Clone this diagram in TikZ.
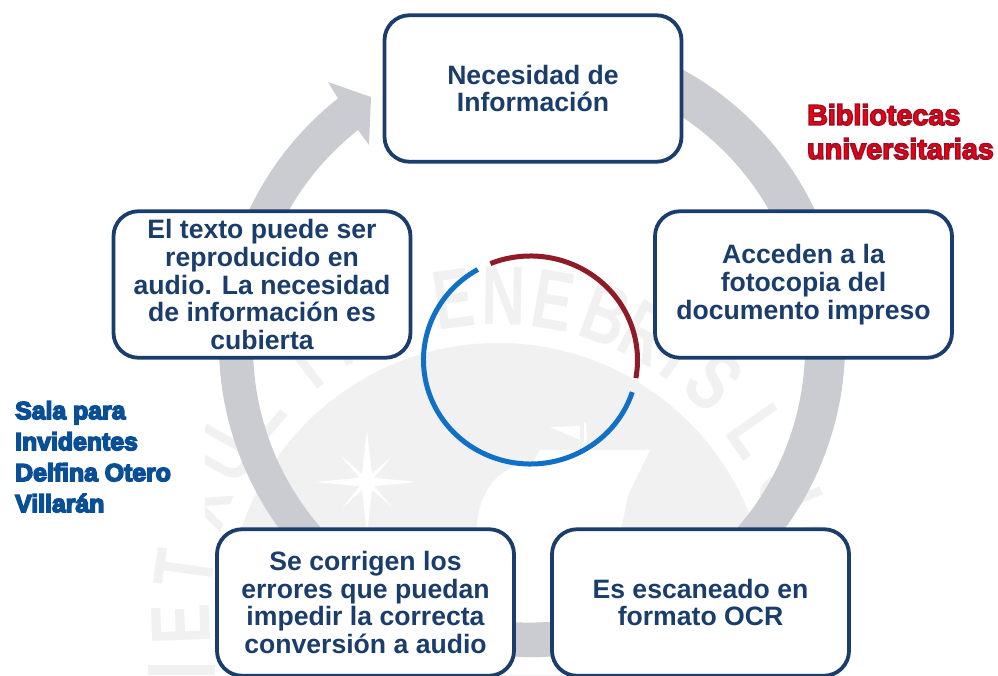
\documentclass[tikz,border=0pt]{standalone}
\usepackage{fontspec}
\setmainfont{Liberation Sans}
\definecolor{ringgrey}{HTML}{CBCCD1}
\definecolor{sealgrey}{HTML}{F1F1F2}
\definecolor{boxblue}{HTML}{1A3D6B}
\definecolor{arcred}{HTML}{8F1A28}
\definecolor{arcblue}{HTML}{1070C8}
\definecolor{redfill}{HTML}{F00010}
\definecolor{salablue}{HTML}{0A5096}
\newcommand{\outlinedtext}[2]{\special{pdf:code 2 Tr #1 RG 1.5 w}#2\special{pdf:code 0 Tr}}
\tikzset{
  cyclebox/.style={draw=boxblue,line width=3.8pt,fill=white,rounded corners=25pt,
    minimum width=297pt,minimum height=146.5pt,inner sep=0pt,align=center,text=boxblue,
    font=\fontsize{26.6}{27.8}\selectfont\bfseries},
  sealletter/.style={text=sealgrey,anchor=base,inner sep=0pt,outer sep=0pt,
    font=\fontsize{84}{84}\selectfont\bfseries},
  sidelabel/.style={inner sep=0pt,anchor=north west,align=left}
}
\begin{document}
\begin{tikzpicture}[x=1pt,y=1pt]
\clip (0,0) rectangle (998,675);
\coordinate (seal) at (498,62);
\coordinate (ringc) at (532,331);
\coordinate (innerc) at (530.5,315);
% watermark seal
\fill[sealgrey] (seal) circle (270pt);
\foreach \ch/\ang [count=\i] in {E/182,T/172,L/140,U/150,X/160,I/128,N/118,T/108,E/98,N/89,E/80,B/70,R/62,I/55,S/47,L/35,U/23,C/12,E/1,T/-9}{
  \node[sealletter,rotate=\ang-90,xscale=.72] (w\i) at ([shift={(\ang:288pt)}]seal) {\ch};
}
\fill[sealgrey] (148,0) rectangle (215,10);
% white emblem shapes in the seal
\fill[white] (477,0) -- (477,150) .. controls (480,190) and (505,212) .. (533,212) -- (540,225) -- (650,225) -- (628,180) -- (620,140) -- (620,0) -- cycle;
\fill[white] (367,245) -- (373,193) -- (367,141) -- (361,193) -- cycle;
\fill[white] (315,193) -- (367,198) -- (417,193) -- (367,188) -- cycle;
\fill[white] (340,220) -- (369,195) -- (393,167) -- (365,191) -- cycle;
\fill[white] (393,220) -- (369,191) -- (342,167) -- (365,195) -- cycle;
\fill[white] (550,248) -- (580,249) -- (580,235) -- cycle;
\fill[white] (584,253) -- (586,253) -- (587,232) -- (584,232) -- cycle;
\fill[white] (0,130) rectangle (205,285);
% big cycle arrow
\fill[ringgrey] ([shift={(70:313pt)}]ringc) arc[start angle=70,end angle=-231.7,radius=313pt]
  -- (328,593) -- (371,578) -- (369,530) -- (358,545)
  arc[start angle=-231.7,end angle=70,radius=276pt] -- cycle;
% inner circle
\draw[arcred,line width=5pt] ([shift={(112:107pt and 104pt)}]innerc) arc[start angle=112,end angle=-10,x radius=107pt,y radius=104pt];
\draw[arcblue,line width=5pt] ([shift={(-18:107pt and 104pt)}]innerc) arc[start angle=-18,end angle=-240.5,x radius=107pt,y radius=104pt];
% boxes
\node[cyclebox] (b1) at (533,586.5) {Necesidad de\\Información};
\node[cyclebox] (b2) at (803.5,390.5) {Acceden a la\\fotocopia del\\documento impreso};
\node[cyclebox] (b3) at (700.5,72.5) {Es escaneado en\\formato OCR};
\node[cyclebox] (b4) at (365.5,72.5) {Se corrigen los\\errores que puedan\\impedir la correcta\\conversión a audio};
\node[cyclebox] (b5) at (262,390.5) {El texto puede ser\\reproducido en\\audio. La necesidad\\de información es\\cubierta};
% side labels
\node[sidelabel,text=redfill,font=\fontsize{28.7}{34}\selectfont\bfseries] (biblio) at (807,571)
  {\outlinedtext{0.62 0.06 0.14}{Bibliotecas}\\\outlinedtext{0.62 0.06 0.14}{universitarias}};
\node[sidelabel,text=salablue,font=\fontsize{24.8}{31}\selectfont\bfseries] (sala) at (15,274)
  {\outlinedtext{0.04 0.31 0.59}{Sala para}\\\outlinedtext{0.04 0.31 0.59}{Invidentes}\\\outlinedtext{0.04 0.31 0.59}{Delfina Otero}\\\outlinedtext{0.04 0.31 0.59}{Villarán}};
\end{tikzpicture}
\end{document}
